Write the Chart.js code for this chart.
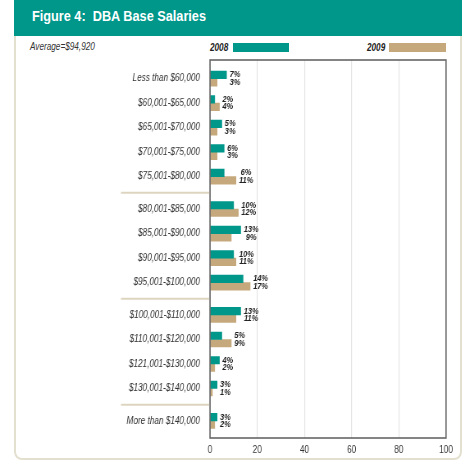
<!DOCTYPE html>
<html>
<head>
<meta charset="utf-8">
<script src="https://cdn.jsdelivr.net/npm/chart.js@4.4.1/dist/chart.umd.min.js"></script>
<style>
body { margin: 0; background: #fff; font-family: "Liberation Sans", Arial, sans-serif; }
#wrap { position: relative; width: 474px; height: 469px; overflow: hidden; }
#card { position: absolute; left: 14px; top: 30px; width: 444px; height: 426px; border: 2px solid #e4e0d0; border-radius: 0 0 8px 8px; }
#header { position: absolute; left: 14px; top: 0; width: 448px; height: 36px; background: #00978b; }
.nar { position: absolute; transform: scaleX(0.82); transform-origin: 0 0; white-space: pre; }
#title { left: 18px; top: 6px; color: #fff; font-weight: bold; font-size: 15.5px; line-height: 20px; }
#avg { left: 30px; top: 41px; font-size: 10px; line-height: 12px; font-style: italic; color: #333; }
.lg { top: 42px; font-size: 10px; line-height: 12px; font-style: italic; font-weight: bold; color: #222; }
.sw { position: absolute; top: 43px; height: 9px; }
canvas { position: absolute; left: 0; top: 0; }
</style>
</head>
<body>
<div id="wrap">
  <div id="card"></div>
  <div id="header"><div id="title" class="nar"></div></div>
  <div id="avg" class="nar">Average=$94,920</div>
  <div class="nar lg" style="left:210px">2008</div>
  <div class="sw" style="left:233px;width:56px;background:#00978b"></div>
  <div class="nar lg" style="left:367px">2009</div>
  <div class="sw" style="left:389px;width:57px;background:#c5a97c"></div>
  <canvas id="salaryChart" width="578" height="469" style="width:474px;height:469px"></canvas>
</div>
<script>
// datos
const categories = [
    'Less than $60,000', '$60,001-$65,000', '$65,001-$70,000', '$70,001-$75,000', '$75,001-$80,000',
    '$80,001-$85,000', '$85,001-$90,000', '$90,001-$95,000', '$95,001-$100,000',
    '$100,001-$110,000', '$110,001-$120,000', '$121,001-$130,000', '$130,001-$140,000',
    'More than $140,000'
];
const salary2008 = [7, 2, 5, 6, 6, 10, 13, 10, 14, 13, 5, 4, 3, 3];
const salary2009 = [3, 4, 3, 3, 11, 12, 9, 11, 17, 11, 9, 2, 1, 2];
const groupSizes = [5, 4, 4, 1];
const xTicks = [0, 20, 40, 60, 80, 100];

document.getElementById('title').textContent = 'Figure 4:  DBA Base Salaries';

const FONT = '"Liberation Sans", Arial, sans-serif';
// el canvas se dibuja mas ancho y se comprime (letra estrecha como el original)
const SX = 474 / 578;
const groupGap = 0.32;

// posicion de cada fila en el eje y (los grupos van separados)
const rowPos = [];
const groupBreaks = [];
let p = 0;
groupSizes.forEach((n, g) => {
    for (let k = 0; k < n; k++) { rowPos.push(p); p += 1; }
    if (g < groupSizes.length - 1) groupBreaks.push(p - 1 + (1 + groupGap) / 2);
    p += groupGap;
});

// marco del grafico + separadores
const framePlugin = {
    id: 'frame',
    afterDatasetsDraw(chart) {
        const { ctx, chartArea: a } = chart;
        ctx.save();
        ctx.strokeStyle = '#666';
        ctx.lineWidth = 1.6;
        ctx.strokeRect(a.left, a.top, a.right - a.left, a.bottom - a.top);
        ctx.strokeStyle = '#ddd5bf';
        ctx.lineWidth = 2;
        groupBreaks.forEach(v => {
            const y = chart.scales.y.getPixelForValue(v);
            ctx.beginPath();
            ctx.moveTo(121 / SX, y);
            ctx.lineTo(a.left - 1, y);
            ctx.stroke();
        });
        ctx.restore();
    }
};

// etiquetas de porcentaje
const labelPlugin = {
    id: 'barLabels',
    afterDraw(chart) {
        const ctx = chart.ctx;
        const m0 = chart.getDatasetMeta(0), m1 = chart.getDatasetMeta(1);
        ctx.save();
        ctx.font = 'italic bold 9px ' + FONT;
        ctx.fillStyle = '#222';
        ctx.textAlign = 'center';
        ctx.textBaseline = 'middle';
        categories.forEach((c, i) => {
            const a = m0.data[i], b = m1.data[i];
            const t0 = salary2008[i] + '%', t1 = salary2009[i] + '%';
            const w = Math.max(ctx.measureText(t0).width, ctx.measureText(t1).width);
            const cx = Math.max(a.x, b.x) + 3 / SX + w / 2;
            ctx.fillText(t0, cx, a.y);
            ctx.fillText(t1, cx, b.y);
        });
        ctx.restore();
    }
};

const ctx = document.getElementById('salaryChart').getContext('2d');
const salaryChart = new Chart(ctx, {
    type: 'bar',
    data: {
        datasets: [{
            label: '2008',
            data: salary2008.map((v, i) => ({ x: v, y: rowPos[i] })),
            backgroundColor: '#00978b',
            barThickness: 7.5
        }, {
            label: '2009',
            data: salary2009.map((v, i) => ({ x: v, y: rowPos[i] })),
            backgroundColor: '#c5a97c',
            barThickness: 7.5
        }]
    },
    options: {
        indexAxis: 'y',
        responsive: false,
        animation: false,
        devicePixelRatio: 1,
        layout: { padding: { left: 0, top: 60, right: 28 / SX, bottom: 11 } },
        plugins: { legend: { display: false }, tooltip: { enabled: false } },
        scales: {
            x: {
                type: 'linear',
                min: 0,
                max: 100,
                afterBuildTicks: s => { s.ticks = xTicks.map(v => ({ value: v })); },
                afterFit: s => { s.height = 20; },
                grid: {
                    drawTicks: false,
                    lineWidth: 1.2,
                    color: c => (c.tick && (c.tick.value === 0 || c.tick.value === 100)) ? 'rgba(0,0,0,0)' : '#e4e4e4'
                },
                border: { display: false },
                ticks: { padding: 6, color: '#333', font: { family: FONT, size: 10 } }
            },
            y: {
                type: 'linear',
                reverse: true,
                offset: false,
                min: -0.76,
                max: rowPos[rowPos.length - 1] + 0.7,
                afterBuildTicks: s => { s.ticks = rowPos.map(v => ({ value: v })); },
                afterFit: s => { s.width = 210 / SX; },
                grid: { display: false, drawTicks: false },
                border: { display: false },
                ticks: {
                    autoSkip: false,
                    padding: 10 / SX,
                    color: '#333',
                    font: { family: FONT, size: 10, style: 'italic' },
                    callback: (v, i) => categories[i]
                }
            }
        }
    },
    plugins: [framePlugin, labelPlugin]
});
</script>
</body>
</html>
